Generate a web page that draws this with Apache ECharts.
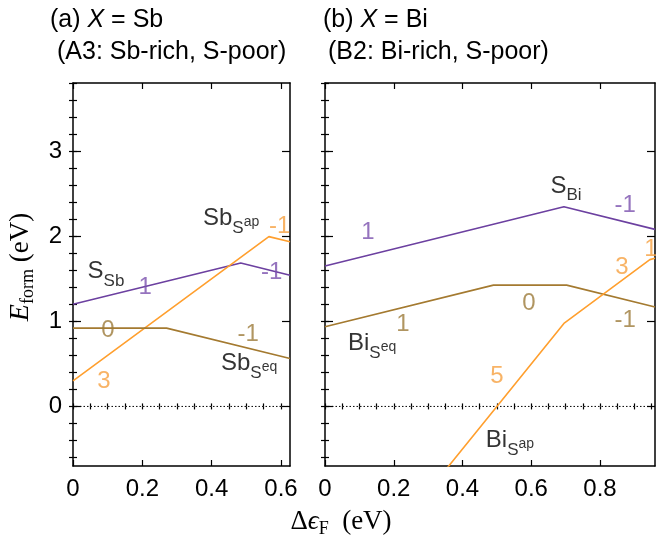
<!DOCTYPE html>
<html>
<head>
<meta charset="utf-8">
<script src="https://cdn.jsdelivr.net/npm/echarts@6/dist/echarts.min.js"></script>
<style>
  html, body { margin: 0; padding: 0; background: #fff; }
  #chart { width: 656px; height: 540px; }
</style>
</head>
<body>
<div id="chart"></div>
<script>
// ---- Formation energies vs. Fermi level shift (eV) ----

// Panel (a): X = Sb, condition A3 (Sb-rich, S-poor)
const gapA = 0.626;
const sSbA   = [[0, 1.20], [0.484, 1.684], [0.626, 1.542]];
const sbSapA = [[0, 0.30], [0.565, 1.995], [0.626, 1.934]];
const sbSeqA = [[0, 0.92], [0.27, 0.92], [0.626, 0.564]];

// Panel (b): X = Bi, condition B2 (Bi-rich, S-poor)
const gapB = 0.96;
const sBiB   = [[0, 1.65], [0.695, 2.345], [0.96, 2.08]];
const biSeqB = [[0, 0.935], [0.49, 1.425], [0.703, 1.425], [0.96, 1.168]];
const biSapB = [[0.3, -1.0], [0.5, 0], [0.695, 0.975], [0.945, 1.725], [0.96, 1.74]];

// Axis ranges and tick labels
const yMin = -0.7, yMax = 3.8;
const yMajor = [0, 1, 2, 3];
const xMajorA = [0, 0.2, 0.4, 0.6];
const xMajorB = [0, 0.2, 0.4, 0.6, 0.8];

// Charge-state and defect-name annotations, in data coordinates
const notesA = [
  { at: [0.095, 1.585], text: '{m|S}{s|Sb}', kind: 'name' },
  { at: [0.208, 1.40],  text: '1',  kind: 'purple' },
  { at: [0.573, 1.58],  text: '-1', kind: 'purple' },
  { at: [0.456, 2.205], text: '{m|Sb}{s|S}{p|ap}', kind: 'name' },
  { at: [0.596, 2.12],  text: '-1', kind: 'orange' },
  { at: [0.101, 0.895], text: '0',  kind: 'brown' },
  { at: [0.089, 0.30],  text: '3',  kind: 'orange' },
  { at: [0.505, 0.85],  text: '-1', kind: 'brown' },
  { at: [0.508, 0.50],  text: '{m|Sb}{s|S}{p|eq}', kind: 'name' }
];
const notesB = [
  { at: [0.701, 2.59],  text: '{m|S}{s|Bi}', kind: 'name' },
  { at: [0.873, 2.36],  text: '-1', kind: 'purple' },
  { at: [0.125, 2.04],  text: '1',  kind: 'purple' },
  { at: [0.864, 1.63],  text: '3',  kind: 'orange' },
  { at: [0.948, 1.85],  text: '1',  kind: 'orange' },
  { at: [0.593, 1.21],  text: '0',  kind: 'brown' },
  { at: [0.227, 0.965], text: '1',  kind: 'brown' },
  { at: [0.873, 1.01],  text: '-1', kind: 'brown' },
  { at: [0.137, 0.74],  text: '{m|Bi}{s|S}{p|eq}', kind: 'name' },
  { at: [0.50, 0.35],   text: '5',  kind: 'orange' },
  { at: [0.538, -0.40], text: '{m|Bi}{s|S}{p|ap}', kind: 'name' }
];

const SANS = 'Liberation Sans, Arial, Helvetica, sans-serif';
const SERIF = 'Liberation Serif, DejaVu Serif, Times New Roman, serif';
const PURPLE = '#6c40a0', ORANGE = '#ff9f2e', BROWN = '#a47a30';
const TEXT_COLORS = { name: '#000', purple: '#7a50ae', orange: '#f6a040', brown: '#9c7a3a' };

function steps(lo, hi, step) {
  const out = [];
  for (let v = lo; v <= hi + 1e-9; v += step) out.push(Math.round(v * 1000) / 1000);
  return out;
}
const yMinor = steps(-0.6, 3.8, 0.2);
const xMinorA = steps(0, gapA, 0.05);
const xMinorB = steps(0, gapB, 0.05);

const frameLine = { show: true, onZero: false, lineStyle: { color: '#000', width: 1.5 } };
const tickLine = { color: '#000', width: 1.2 };

function xAxesFor(gi, max, major, minor) {
  const base = { type: 'value', gridIndex: gi, min: 0, max: max, splitLine: { show: false } };
  const fmt = v => (v === 0 ? '0' : (+v.toFixed(1)).toString());
  return [
    Object.assign({}, base, {
      position: 'bottom', axisLine: frameLine,
      axisTick: { show: true, inside: true, length: 6, customValues: major, lineStyle: tickLine },
      axisLabel: { show: true, customValues: major, formatter: fmt, margin: 11,
                   fontSize: 24, fontFamily: SANS, color: '#000' }
    }),
    Object.assign({}, base, {
      position: 'bottom', axisLine: { show: false },
      axisTick: { show: true, inside: true, length: 3, customValues: minor, lineStyle: tickLine },
      axisLabel: { show: false }
    }),
    Object.assign({}, base, {
      position: 'top', axisLine: frameLine,
      axisTick: { show: true, inside: true, length: 6, customValues: major, lineStyle: tickLine },
      axisLabel: { show: false }
    }),
    Object.assign({}, base, {
      position: 'top', axisLine: { show: false },
      axisTick: { show: true, inside: true, length: 3, customValues: minor, lineStyle: tickLine },
      axisLabel: { show: false }
    })
  ];
}

function yAxesFor(gi, withLabels) {
  const base = { type: 'value', gridIndex: gi, min: yMin, max: yMax, splitLine: { show: false } };
  return [
    Object.assign({}, base, {
      position: 'left', axisLine: frameLine,
      axisTick: { show: true, inside: true, length: 8, customValues: yMajor, lineStyle: tickLine },
      axisLabel: { show: withLabels, customValues: yMajor, margin: 11,
                   fontSize: 24, fontFamily: SANS, color: '#000' }
    }),
    Object.assign({}, base, {
      position: 'left', axisLine: { show: false },
      axisTick: { show: true, inside: true, length: 4, customValues: yMinor, lineStyle: tickLine },
      axisLabel: { show: false }
    }),
    Object.assign({}, base, {
      position: 'right', axisLine: frameLine,
      axisTick: { show: true, inside: true, length: 8, customValues: yMajor, lineStyle: tickLine },
      axisLabel: { show: false }
    }),
    Object.assign({}, base, {
      position: 'right', axisLine: { show: false },
      axisTick: { show: true, inside: true, length: 4, customValues: yMinor, lineStyle: tickLine },
      axisLabel: { show: false }
    })
  ];
}

function curve(xi, yi, data, color) {
  return {
    type: 'line', xAxisIndex: xi, yAxisIndex: yi, data: data,
    symbol: 'none', clip: true, silent: true, z: 3,
    lineStyle: { color: color, width: 1.6 }
  };
}

function zeroLine(xi, yi, max) {
  return {
    type: 'line', xAxisIndex: xi, yAxisIndex: yi, data: [[0, 0], [max, 0]],
    symbol: 'none', silent: true, z: 2,
    lineStyle: { color: '#000', width: 1, type: [1.5, 2] }
  };
}

const labelRich = {
  m: { fontSize: 24, fontFamily: SANS, color: '#000' },
  s: { fontSize: 17, fontFamily: SANS, color: '#000', padding: [19, 0, 0, 0] },
  p: { fontSize: 14, fontFamily: SANS, color: '#000', padding: [7, 0, 0, 0] }
};

function notes(xi, yi, list) {
  return {
    type: 'scatter', xAxisIndex: xi, yAxisIndex: yi, symbolSize: 0, silent: true, z: 6,
    data: list.map(n => ({
      value: n.at,
      label: { formatter: n.text, color: TEXT_COLORS[n.kind] }
    })),
    label: { show: true, position: 'inside', fontSize: 24, fontFamily: SANS, rich: labelRich }
  };
}

const chart = echarts.init(document.getElementById('chart'), null, { renderer: 'canvas' });

const titleRich = {
  n: { fontSize: 25, fontFamily: SANS, fill: '#000' },
  i: { fontSize: 25, fontFamily: SANS, fontStyle: 'italic', fill: '#000' }
};

chart.setOption({
  animation: false,
  backgroundColor: '#fff',
  grid: [
    { left: 73, top: 83, width: 217, height: 383 },
    { left: 325, top: 83, width: 330, height: 383 }
  ],
  xAxis: xAxesFor(0, gapA, xMajorA, xMinorA).concat(xAxesFor(1, gapB, xMajorB, xMinorB)),
  yAxis: yAxesFor(0, true).concat(yAxesFor(1, false)),
  series: [
    zeroLine(0, 0, gapA),
    curve(0, 0, sSbA, PURPLE),
    curve(0, 0, sbSapA, ORANGE),
    curve(0, 0, sbSeqA, BROWN),
    notes(0, 0, notesA),
    zeroLine(4, 4, gapB),
    curve(4, 4, sBiB, PURPLE),
    curve(4, 4, biSeqB, BROWN),
    curve(4, 4, biSapB, ORANGE),
    notes(4, 4, notesB)
  ],
  graphic: [
    { type: 'text', x: 50, y: 20, style: { text: '{n|(a) }{i|X}{n| = Sb}', rich: titleRich, verticalAlign: 'middle', align: 'left' } },
    { type: 'text', x: 57, y: 52, style: { text: '{n|(A3: Sb-rich, S-poor)}', rich: titleRich, verticalAlign: 'middle', align: 'left' } },
    { type: 'text', x: 323, y: 20, style: { text: '{n|(b) }{i|X}{n| = Bi}', rich: titleRich, verticalAlign: 'middle', align: 'left' } },
    { type: 'text', x: 328, y: 52, style: { text: '{n|(B2: Bi-rich, S-poor)}', rich: titleRich, verticalAlign: 'middle', align: 'left' } },
    {
      type: 'text', x: 21, y: 267, rotation: Math.PI / 2,
      style: {
        text: '{e|E}{f|form}{u| (eV)}', align: 'center', verticalAlign: 'middle',
        rich: {
          e: { fontSize: 28, fontFamily: SERIF, fontStyle: 'italic', fill: '#000' },
          f: { fontSize: 18, fontFamily: SERIF, fill: '#000', padding: [14, 0, 0, 0] },
          u: { fontSize: 27, fontFamily: SERIF, fill: '#000' }
        }
      }
    },
    {
      type: 'text', x: 341, y: 522,
      style: {
        text: '{d|Δ}{e|ϵ}{f|F}{u|  (eV)}', align: 'center', verticalAlign: 'middle',
        rich: {
          d: { fontSize: 27, fontFamily: SERIF, fill: '#000' },
          e: { fontSize: 27, fontFamily: SERIF, fontStyle: 'italic', fill: '#000' },
          f: { fontSize: 18, fontFamily: SERIF, fill: '#000', padding: [14, 0, 0, 0] },
          u: { fontSize: 27, fontFamily: SERIF, fill: '#000' }
        }
      }
    }
  ]
});
</script>
</body>
</html>
